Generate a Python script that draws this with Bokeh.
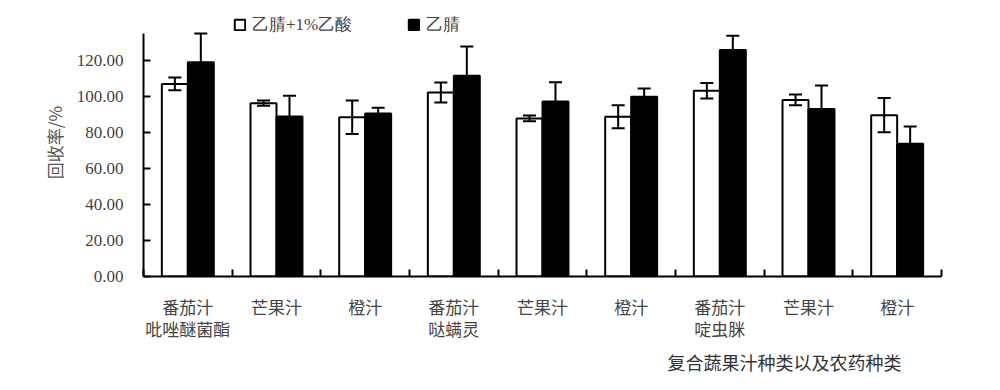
from bokeh.plotting import figure
from bokeh.models import (ColumnDataSource, FixedTicker, NumeralTickFormatter, Whisker,
                          TeeHead, Legend, LegendItem, Title)
from bokeh.embed import file_html
from bokeh.resources import INLINE

# ---- data ----
categories = ["番茄汁\n吡唑醚菌酯", "芒果汁", "橙汁",
              "番茄汁\n哒螨灵", "芒果汁", "橙汁",
              "番茄汁\n啶虫脒", "芒果汁", "橙汁"]
series_names = ["乙腈+1%乙酸", "乙腈"]
acid_vals = [107.0, 96.3, 88.5, 102.2, 87.8, 88.7, 103.2, 98.1, 89.6]
acid_err = [3.5, 1.5, 9.3, 5.6, 1.6, 6.4, 4.3, 3.0, 9.5]
acn_vals = [119.0, 88.9, 90.6, 111.5, 97.2, 99.8, 125.9, 93.1, 73.7]
acn_err = [16.0, 11.5, 3.1, 16.3, 10.7, 4.6, 7.8, 13.0, 9.6]
y_ticks = [0, 20, 40, 60, 80, 100, 120]
y_axis_max = 135
x_title = "复合蔬果汁种类以及农药种类"
y_title = "回收率/%"

SERIF = "Liberation Serif"
CJK = "Noto Sans CJK SC"

n = len(categories)
centers = [i + 0.5 for i in range(n)]
bw = 0.293
x_acid = [c - bw / 2 for c in centers]
x_acn = [c + bw / 2 for c in centers]

src_a = ColumnDataSource(dict(x=x_acid, top=acid_vals,
                              lo=[v - e for v, e in zip(acid_vals, acid_err)],
                              hi=[v + e for v, e in zip(acid_vals, acid_err)]))
src_b = ColumnDataSource(dict(x=x_acn, top=acn_vals,
                              lo=[v - e for v, e in zip(acn_vals, acn_err)],
                              hi=[v + e for v, e in zip(acn_vals, acn_err)]))

FH = 268
p = figure(frame_width=798, frame_height=FH, x_range=(0, n), y_range=(0, FH / 1.8),
           output_backend="svg", toolbar_location=None,
           min_border_left=143, min_border_right=40, min_border_top=8, min_border_bottom=10)
p.outline_line_color = None
p.xgrid.visible = False
p.ygrid.visible = False

ra = p.vbar(x="x", top="top", width=bw, source=src_a, fill_color="white",
            line_color="black", line_width=2)
rb = p.vbar(x="x", top="top", width=bw, source=src_b, fill_color="black",
            line_color="black", line_width=2)

for s in (src_a, src_b):
    w = Whisker(base="x", lower="lo", upper="hi", source=s, dimension="height",
                line_color="black", line_width=2, level="overlay",
                upper_head=TeeHead(size=13, line_width=2, line_color="black"),
                lower_head=TeeHead(size=13, line_width=2, line_color="black"))
    p.add_layout(w)

# y axis
p.yaxis.bounds = (0, y_axis_max)
p.yaxis.ticker = FixedTicker(ticks=y_ticks)
p.yaxis.formatter = NumeralTickFormatter(format="0.00")
p.yaxis.major_tick_in = 7
p.yaxis.major_tick_out = 0
p.yaxis.minor_tick_line_color = None
p.yaxis.axis_line_width = 2
p.yaxis.major_tick_line_width = 2
p.yaxis.major_label_text_font = SERIF
p.yaxis.major_label_text_font_size = "17px"
p.yaxis.major_label_standoff = 20
p.yaxis.axis_label = y_title
p.yaxis.axis_label_text_font = CJK
p.yaxis.axis_label_text_font_size = "17px"
p.yaxis.axis_label_text_font_style = "normal"
p.yaxis.axis_label_text_color = "#555555"
p.yaxis.axis_label_standoff = 7

# x axis
p.xaxis.ticker = FixedTicker(ticks=centers, minor_ticks=list(range(n + 1)))
p.xaxis.major_label_overrides = {c: lab for c, lab in zip(centers, categories)}
p.xaxis.major_tick_line_color = None
p.xaxis.minor_tick_in = 7
p.xaxis.minor_tick_out = 0
p.xaxis.minor_tick_line_width = 2
p.xaxis.axis_line_width = 2
p.xaxis.major_label_text_font = CJK
p.xaxis.major_label_text_font_size = "17px"
p.xaxis.major_label_text_line_height = 0.9
p.xaxis.major_label_standoff = 11

t = Title(text=x_title, align="left", offset=524, text_font=CJK,
          text_font_size="18px", text_font_style="normal", text_color="#333333",
          standoff=4)
p.add_layout(t, "below")

legend = Legend(items=[LegendItem(label=series_names[0], renderers=[ra]),
                       LegendItem(label=series_names[1], renderers=[rb])],
                orientation="horizontal", location=(90, 240),
                border_line_color=None, background_fill_alpha=0,
                padding=0, margin=0, spacing=55, label_standoff=6,
                glyph_width=13, glyph_height=13, label_height=14,
                label_text_font=SERIF, label_text_font_size="17px",
                label_text_baseline="middle")
p.add_layout(legend, "center")

open("out.html", "w").write(file_html(p, INLINE))
